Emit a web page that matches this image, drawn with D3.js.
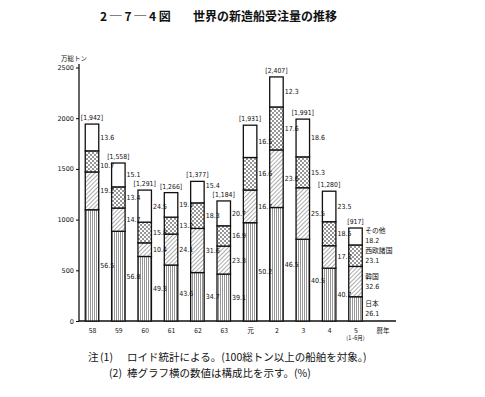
<!DOCTYPE html>
<html>
<head>
<meta charset="utf-8">
<script src="https://cdn.jsdelivr.net/npm/d3@7"></script>
<style>
body { margin: 0; background: #fff; }
text { font-family: "Noto Sans CJK JP", "DejaVu Sans", sans-serif; fill: #111; }
.num { font-family: "Liberation Sans Narrow", "DejaVu Sans Condensed", "DejaVu Sans", sans-serif; font-stretch: condensed; }
</style>
</head>
<body>
<div class="chart"></div>
<script>
var years = ["58", "59", "60", "61", "62", "63", "元", "2", "3", "4", "5"];
var totals = [1942, 1558, 1291, 1266, 1377, 1184, 1931, 2407, 1991, 1280, 917];
// shares (%) from bottom to top
var japan = [56.5, 56.8, 49.3, 43.6, 34.7, 39.1, 50.2, 46.5, 40.5, 40.7, 26.1];
var korea = [19.2, 14.7, 10.4, 24.1, 31.6, 23.3, 16.7, 23.6, 25.5, 17.3, 32.6];
var westEurope = [10.7, 13.4, 15.8, 13.2, 18.3, 16.9, 16.6, 17.6, 15.3, 18.5, 23.1];
var others = [13.6, 15.1, 24.5, 19.1, 15.4, 20.7, 16.5, 12.3, 18.6, 23.5, 18.2];
var seriesNames = ["日本", "韓国", "西欧諸国", "その他"];
var yTicks = [0, 500, 1000, 1500, 2000, 2500];

var width = 485, height = 397;
var barWidth = 13.5;

var svg = d3.select(".chart").append("svg")
	.attr("width", width)
	.attr("height", height);

// patterns
var defs = svg.append("defs");
var pj = defs.append("pattern").attr("id", "p_japan")
	.attr("patternUnits", "userSpaceOnUse").attr("width", 2).attr("height", 4);
pj.append("rect").attr("width", 2).attr("height", 4).attr("fill", "#fff");
pj.append("line").attr("x1", 0.5).attr("y1", 0).attr("x2", 0.5).attr("y2", 4)
	.attr("stroke", "#8a8a8a").attr("stroke-width", 0.9);

var pk = defs.append("pattern").attr("id", "p_korea")
	.attr("patternUnits", "userSpaceOnUse").attr("width", 3).attr("height", 3)
	.attr("patternTransform", "rotate(45)");
pk.append("rect").attr("width", 3).attr("height", 3).attr("fill", "#fff");
pk.append("line").attr("x1", 0).attr("y1", 0).attr("x2", 0).attr("y2", 3)
	.attr("stroke", "#222").attr("stroke-width", 0.75);

var pw = defs.append("pattern").attr("id", "p_we")
	.attr("patternUnits", "userSpaceOnUse").attr("width", 4).attr("height", 4);
pw.append("rect").attr("width", 4).attr("height", 4).attr("fill", "#fff");
pw.append("circle").attr("cx", 1).attr("cy", 1).attr("r", 0.8).attr("fill", "#111");
pw.append("circle").attr("cx", 3).attr("cy", 3).attr("r", 0.8).attr("fill", "#111");

var fills = ["url(#p_japan)", "url(#p_korea)", "url(#p_we)", "#fff"];

// scales
var x = d3.scalePoint()
	.domain(years)
	.range([92, 355.5]);
var y = d3.scaleLinear()
	.domain([0, 2500])
	.range([321, 67.5]);

// title
svg.append("text")
	.attr("x", 100).attr("y", 21)
	.attr("font-size", 12).attr("font-weight", 700)
	.text("2 ─ 7 ─ 4 図");
svg.append("text")
	.attr("x", 193).attr("y", 21)
	.attr("font-size", 12).attr("font-weight", 700)
	.text("世界の新造船受注量の推移");

// y axis
var yAxis = d3.axisLeft(y).tickValues(yTicks).tickFormat(d3.format("d"))
	.tickSize(3).tickSizeOuter(0).tickPadding(2);
var gy = svg.append("g")
	.attr("transform", "translate(79,0)")
	.call(yAxis);
gy.select(".domain").remove();
gy.selectAll("text").attr("font-size", 6.5).style("font-family", "DejaVu Sans");
svg.append("line")
	.attr("x1", 79).attr("x2", 79).attr("y1", 64).attr("y2", y(0))
	.attr("stroke", "#111").attr("stroke-width", 1.3);
svg.append("text")
	.attr("x", 61).attr("y", 61)
	.attr("font-size", 6.5)
	.text("万総トン");

// x axis
svg.append("line")
	.attr("x1", 79).attr("x2", 396).attr("y1", y(0)).attr("y2", y(0))
	.attr("stroke", "#111").attr("stroke-width", 1.3);
var xAxis = d3.axisBottom(x).tickSize(0).tickPadding(7);
var gx = svg.append("g")
	.attr("transform", "translate(0," + y(0) + ")")
	.call(xAxis);
gx.select(".domain").remove();
gx.selectAll("text").attr("font-size", 6.8);
svg.append("text")
	.attr("x", 383).attr("y", 333)
	.attr("text-anchor", "middle").attr("font-size", 6.5)
	.text("暦年");
svg.append("text")
	.attr("x", x("5")).attr("y", 340)
	.attr("text-anchor", "middle").attr("font-size", 5.5)
	.text("(1~6月)");

// stacked bars
var shares = [japan, korea, westEurope, others];
var bars = svg.append("g");
var labels = svg.append("g");
years.forEach(function (yr, i) {
	var cum = 0;
	var last = (i == years.length - 1);
	var x0 = x(yr) - barWidth / 2;
	var prevName = 1000;
	// baseline of the next bar's total label, to keep share labels clear of it
	var nextTotalY = last ? null : y(totals[i + 1]) - 4;
	for (var s = 0; s < 4; s++) {
		var v0 = totals[i] * cum / 100;
		cum += shares[s][i];
		var v1 = (s == 3) ? totals[i] : totals[i] * cum / 100;
		bars.append("rect")
			.attr("x", x0).attr("width", barWidth)
			.attr("y", y(v1)).attr("height", y(v0) - y(v1))
			.attr("fill", fills[s])
			.attr("stroke", "#111").attr("stroke-width", 1.3);
		var mid = (y(v0) + y(v1)) / 2;
		if (!last) {
			var ly = mid + 2.5;
			if (Math.abs(ly - nextTotalY) < 9) {
				ly = (ly < nextTotalY) ? nextTotalY - 9 : nextTotalY + 9;
			}
			labels.append("text")
				.attr("class", "num")
				.attr("x", x0 + barWidth + 1.5).attr("y", ly)
				.attr("font-size", 7)
				.text(d3.format(".1f")(shares[s][i]));
		} else {
			// legend beside the last bar, kept apart from the entry below it
			var ny = Math.min(mid - 3, prevName - 20);
			prevName = ny;
			labels.append("text")
				.attr("x", x0 + barWidth + 3).attr("y", ny)
				.attr("font-size", 6.8)
				.text(seriesNames[s]);
			labels.append("text")
				.attr("class", "num")
				.attr("x", x0 + barWidth + 3).attr("y", ny + 10.5)
				.attr("font-size", 7)
				.text(d3.format(".1f")(shares[s][i]));
		}
	}
	labels.append("text")
		.attr("class", "num")
		.attr("x", x(yr)).attr("y", y(totals[i]) - 4)
		.attr("text-anchor", "middle").attr("font-size", 6.8)
		.text("[" + d3.format(",")(totals[i]) + "]");
});

// notes
var notes = svg.append("g").attr("font-size", 10.5);
notes.append("text").attr("x", 88).attr("y", 361).text("注");
notes.append("text").attr("x", 100).attr("y", 361).text("(1)");
notes.append("text").attr("x", 127).attr("y", 361).text("ロイド統計による。(100総トン以上の船舶を対象。)");
notes.append("text").attr("x", 109).attr("y", 377).text("(2)");
notes.append("text").attr("x", 127).attr("y", 377).text("棒グラフ横の数値は構成比を示す。(%)");
</script>
</body>
</html>
